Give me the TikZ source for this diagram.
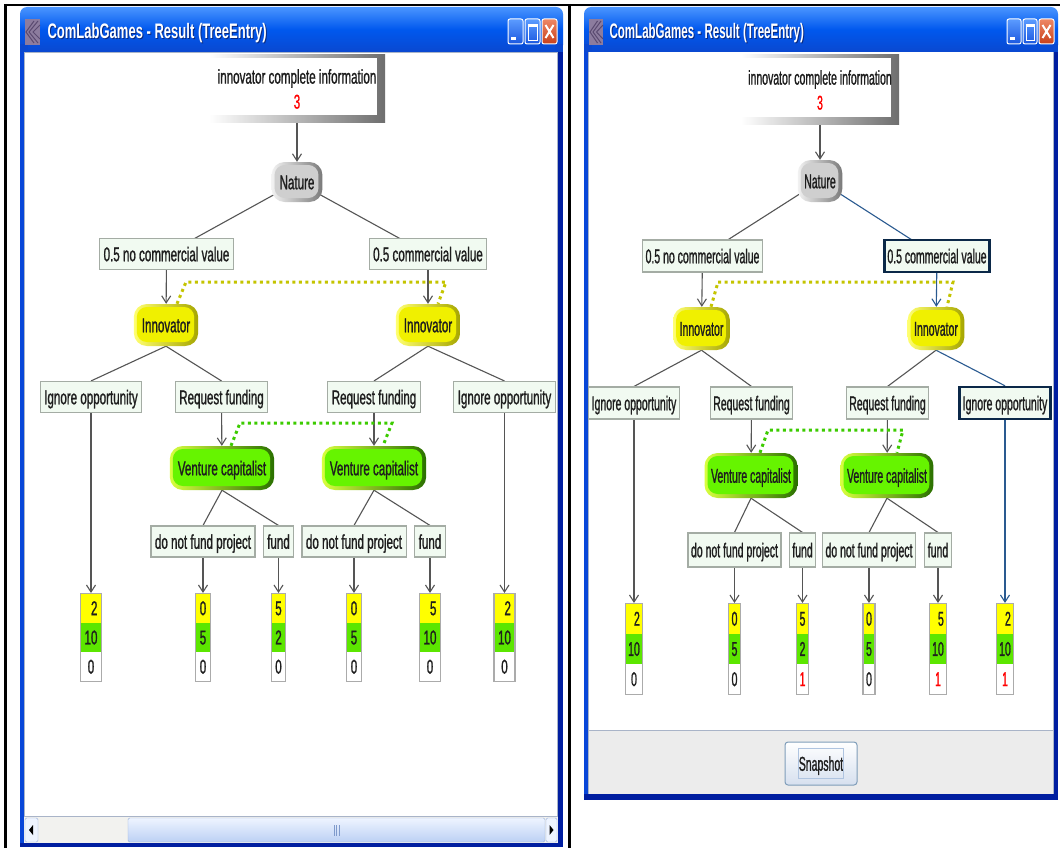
\documentclass[tikz,border=0pt]{standalone}
\usepackage{fontspec}
\setmainfont{Liberation Sans}
\newfontfamily\lfnt[FakeStretch=0.58,FakeBold=1]{Liberation Sans}
\newfontfamily\rfnt[FakeStretch=0.525,FakeBold=1]{Liberation Sans}
\newfontfamily\ltfnt[FakeStretch=0.62]{Liberation Sans}
\newfontfamily\rtfnt[FakeStretch=0.55]{Liberation Sans}
\usetikzlibrary{arrows.meta,shapes.multipart,calc}
\pgfdeclarelayer{chrome}
\pgfdeclarelayer{edges}
\pgfsetlayers{chrome,edges,main}

\definecolor{txt}{HTML}{1E1E1E}
\definecolor{actfill}{HTML}{F1FAF1}
\definecolor{actbd}{HTML}{A4ACA4}
\definecolor{selbd}{HTML}{0B2848}
\definecolor{edgec}{HTML}{555555}
\definecolor{bluee}{HTML}{2A5A90}
\definecolor{ydot}{HTML}{C4C400}
\definecolor{gdot}{HTML}{3CCB00}
\definecolor{payY}{HTML}{FFFF00}
\definecolor{payG}{HTML}{5CE600}
\definecolor{paybd}{HTML}{ABABAB}
\definecolor{innA}{HTML}{FFFF70}
\definecolor{innB}{HTML}{A6A600}
\definecolor{innC}{HTML}{F0F000}
\definecolor{vcA}{HTML}{D8FF40}
\definecolor{vcB}{HTML}{2A7000}
\definecolor{vcC}{HTML}{66F400}
\definecolor{natA}{HTML}{F2F2F2}
\definecolor{natB}{HTML}{7A7A7A}
\definecolor{natC}{HTML}{CFCFCF}
\definecolor{infoS}{HTML}{6E6E6E}
\definecolor{xpT0}{HTML}{0A48D0}
\definecolor{xpT1}{HTML}{0058EE}
\definecolor{xpT2}{HTML}{4A95FF}
\definecolor{xpSide}{HTML}{0846D8}
\definecolor{xpDark}{HTML}{001EA0}
\definecolor{xpShadow}{HTML}{0A2A80}
\definecolor{contbd}{HTML}{A9B4C8}
\definecolor{panel}{HTML}{ECECEC}
\definecolor{closeA}{HTML}{EE8866}
\definecolor{closeB}{HTML}{C8401A}
\definecolor{btnA}{HTML}{5C9CFF}
\definecolor{btnB}{HTML}{1B58E0}
\definecolor{iconc}{HTML}{8C7C9E}
\definecolor{iconD}{HTML}{5A4A70}
\definecolor{sbA}{HTML}{EEF4FF}
\definecolor{sbB}{HTML}{BCD0F4}
\definecolor{sbbd}{HTML}{98B0DA}
\definecolor{sbtrack}{HTML}{F2F2EF}
\definecolor{grip}{HTML}{7F9ACB}
\definecolor{snapbd}{HTML}{7F9DB9}
\definecolor{snapB}{HTML}{D6E0EF}
\definecolor{focus}{HTML}{AFC4E0}

\newcommand\pstrL{\rule[-7pt]{0pt}{28pt}}
\newcommand\pstrR{\rule[-7.5pt]{0pt}{29pt}}

\begin{document}
\begin{tikzpicture}[x=1pt,y=-1pt,
  lf/.style={font=\lfnt\fontsize{20}{22}\selectfont},
  rf/.style={font=\rfnt\fontsize{20}{22}\selectfont},
  act/.style={rectangle, fill=actfill, draw=actbd, line width=1.1pt, inner ysep=0pt, text=txt, text height=14.5pt, text depth=0pt},
  actL/.style={act, lf, minimum height=31pt, inner xsep=4pt},
  actR/.style={act, rf, minimum height=32pt, inner xsep=3pt},
  sel/.style={draw=selbd, line width=2.4pt},
  pillL/.style={rectangle, rounded corners=13pt, inner xsep=8pt, inner ysep=0pt, text=txt, lf, text height=14.5pt, text depth=0pt},
  pillR/.style={rectangle, rounded corners=13pt, inner xsep=6.5pt, inner ysep=0pt, text=txt, rf, text height=14.5pt, text depth=0pt},
  nat/.style={left color=natA, right color=natB,
    path picture={\fill[natC, rounded corners=10pt] ([shift={(3pt,-3pt)}]path picture bounding box.north west) rectangle ([shift={(-4pt,4pt)}]path picture bounding box.south east);}},
  inn/.style={left color=innA, right color=innB,
    path picture={\fill[innC, rounded corners=10pt] ([shift={(3pt,-3pt)}]path picture bounding box.north west) rectangle ([shift={(-4pt,4pt)}]path picture bounding box.south east);}},
  vc/.style={left color=vcA, right color=vcB,
    path picture={\fill[vcC, rounded corners=10pt] ([shift={(3pt,-3pt)}]path picture bounding box.north west) rectangle ([shift={(-4pt,4pt)}]path picture bounding box.south east);}},
  infobox/.style={rectangle, inner sep=0pt, align=center, text=txt,
    path picture={\shade[left color=white, right color=infoS] (path picture bounding box.north west) rectangle (path picture bounding box.south east);
      \fill[white] ([yshift=-3pt]path picture bounding box.north west) rectangle ([shift={(-8pt,8pt)}]path picture bounding box.south east);}},
  pay/.style={rectangle split, rectangle split parts=3, rectangle split draw splits=false,
    rectangle split part fill={payY,payG,white}, draw=paybd, line width=1.2pt,
    inner ysep=0pt, text=txt, anchor=north},
  payL/.style={pay, lf, inner xsep=4pt},
  payR/.style={pay, rf, inner xsep=3pt},
  edge/.style={draw=edgec, line width=1.1pt},
  arr/.style={edge, -{Straight Barb[length=7pt,width=9pt]}},
  bl/.style={draw=bluee},
  yset/.style={draw=ydot, line width=3pt, dash pattern=on 3pt off 3.5pt},
  gset/.style={draw=gdot, line width=3pt, dash pattern=on 3pt off 3.5pt},
  xpbtn/.style={draw=white, line width=1pt, rounded corners=2pt, top color=btnA, bottom color=btnB},
  xpclose/.style={draw=white, line width=1pt, rounded corners=2pt, top color=closeA, bottom color=closeB}
]
\useasboundingbox (0,0) rectangle (1060,848);

\begin{pgfonlayer}{chrome}
\fill[white] (0,0) rectangle (1060,848);
% table rules
\draw[black, line width=2.5pt] (4,5) -- (1060,5);
\draw[black, line width=2.5pt] (5.5,4) -- (5.5,848);
\draw[black, line width=2.5pt] (569.5,4) -- (569.5,848);

% ---------- left window ----------
\shade[top color=xpT2, bottom color=xpT0, middle color=xpT1, rounded corners=7pt] (20,7) rectangle (563,52);
\fill[xpT0] (20,44) rectangle (28,52);
\fill[xpT0] (555,44) rectangle (563,52);
\fill[xpSide] (20,52) rectangle (24,847);
\fill[xpDark] (558,52) rectangle (563,847);
\fill[xpDark] (20,843) rectangle (563,847);
\fill[white] (24,52) rectangle (558,816);
\draw[contbd, line width=1pt] (24.5,52.5) rectangle (557.5,816);
% scrollbar
\fill[sbtrack] (24,816.5) rectangle (558,843);
\draw[sbbd, fill=sbA, rounded corners=1.5pt] (25,818) rectangle (38,842);
\fill[black] (29,830) -- (33,825) -- (33,835) -- cycle;
\shade[top color=sbA, bottom color=sbB, rounded corners=1.5pt] (128,818) rectangle (545,842);
\draw[sbbd, rounded corners=1.5pt] (128,818) rectangle (545,842);
\draw[grip, line width=0.8pt] (334,825) -- (334,836) (336.5,825) -- (336.5,836) (339,825) -- (339,836);
\draw[sbbd, fill=sbA, rounded corners=1.5pt] (546,818) rectangle (557,842);
\fill[black] (553.5,830) -- (549.5,825) -- (549.5,835) -- cycle;

% ---------- right window ----------
\shade[top color=xpT2, bottom color=xpT0, middle color=xpT1, rounded corners=7pt] (584,7) rectangle (1058,52);
\fill[xpT0] (584,44) rectangle (592,52);
\fill[xpT0] (1050,44) rectangle (1058,52);
\fill[xpSide] (584,52) rectangle (588,800);
\fill[xpDark] (1054,52) rectangle (1058,800);
\fill[xpDark] (584,794) rectangle (1058,800);
\fill[white] (588,52) rectangle (1054,730);
\fill[panel] (588,731) rectangle (1054,794);
\draw[contbd, line width=1pt] (588,730.5) -- (1054,730.5);
\draw[contbd, line width=0.8pt] (588.5,52.5) -- (588.5,794) (1053.5,52.5) -- (1053.5,794);
\end{pgfonlayer}

% title icons
\fill[iconc] (25,19) rectangle (40,45);
\draw[iconD, line width=1pt] (38,21) -- (29,32) -- (38,43) (34,21) -- (26,32) -- (34,43) (40,25) -- (33,32) -- (40,39);
\fill[iconc] (589,19) rectangle (603,45);
\draw[iconD, line width=1pt] (601,21) -- (593,32) -- (601,43) (597.5,21) -- (590,32) -- (597.5,43) (603,25) -- (596.5,32) -- (603,39);

% titles
\node[anchor=west, text=xpShadow, font=\ltfnt\bfseries\fontsize{21}{22}\selectfont] (ttlLs) at (45,34) {ComLabGames - Result (TreeEntry)};
\node[anchor=west, text=white, font=\ltfnt\bfseries\fontsize{21}{22}\selectfont] (ttlL) at (44,33) {ComLabGames - Result (TreeEntry)};
\node[anchor=west, text=xpShadow, font=\rtfnt\bfseries\fontsize{21}{22}\selectfont] (ttlRs) at (607,34) {ComLabGames - Result (TreeEntry)};
\node[anchor=west, text=white, font=\rtfnt\bfseries\fontsize{21}{22}\selectfont] (ttlR) at (606,33) {ComLabGames - Result (TreeEntry)};

% title buttons left
\path[xpbtn] (508,19) rectangle (523,44);
\fill[white] (511,37) rectangle (516,40);
\path[xpbtn] (525,19) rectangle (540,44);
\draw[white, line width=0.9pt] (528,24) rectangle (537,40);
\fill[white] (528,24) rectangle (537,27);
\path[xpclose] (542,19) rectangle (557,44);
\draw[white, line width=2pt] (545.5,25) -- (553.5,38) (553.5,25) -- (545.5,38);
% title buttons right
\path[xpbtn] (1007,19) rectangle (1021,44);
\fill[white] (1010,37) rectangle (1015,40);
\path[xpbtn] (1023,19) rectangle (1037,44);
\draw[white, line width=0.9pt] (1026,24) rectangle (1034,40);
\fill[white] (1026,24) rectangle (1034,27);
\path[xpclose] (1039,19) rectangle (1054,44);
\draw[white, line width=2pt] (1042.5,25) -- (1050.5,38) (1050.5,25) -- (1042.5,38);

% snapshot button
\node[rectangle, rounded corners=3pt, draw=snapbd, line width=1pt, top color=white, bottom color=snapB,
      minimum width=72pt, minimum height=43pt, inner sep=0pt, rf, text=txt, text height=14.5pt, text depth=0pt] (snap) at (821,763.5) {Snapshot};
\draw[focus, line width=0.8pt] (798,748.5) rectangle (843.5,778.5);

% ================= LEFT TREE =================
\node[infobox, font=\lfnt\fontsize{20}{25}\selectfont, minimum width=176pt, minimum height=68pt] (infoL) at (297,89)
  {innovator complete information\\\textcolor{red}{3}};
\node[pillL, nat, minimum height=40pt] (natL) at (297,182) {Nature};
\node[actL] (ncL) at (166.5,254) {0.5 no commercial value};
\node[actL] (cvL) at (428,254) {0.5 commercial value};
\node[pillL, inn, minimum height=42pt] (innL1) at (166,325) {Innovator};
\node[pillL, inn, minimum height=42pt] (innL2) at (428,325) {Innovator};
\node[actL] (igL1) at (91,397) {Ignore opportunity};
\node[actL] (rfL1) at (221.5,397) {Request funding};
\node[actL] (rfL2) at (374,397) {Request funding};
\node[actL] (igL2) at (504.5,397) {Ignore opportunity};
\node[pillL, vc, minimum height=44pt] (vcL1) at (222,468) {Venture capitalist};
\node[pillL, vc, minimum height=44pt] (vcL2) at (374,468) {Venture capitalist};
\node[actL] (dnfL1) at (203,541.5) {do not fund project};
\node[actL] (fdL1) at (278.5,541.5) {fund};
\node[actL] (dnfL2) at (354,541.5) {do not fund project};
\node[actL] (fdL2) at (430,541.5) {fund};
\node[payL] (payL1) at (91,593) {\pstrL\phantom{1}2\nodepart{two}\pstrL 10\nodepart{three}\pstrL 0};
\node[payL] (payL2) at (203,593) {\pstrL 0\nodepart{two}\pstrL 5\nodepart{three}\pstrL 0};
\node[payL] (payL3) at (278.5,593) {\pstrL 5\nodepart{two}\pstrL 2\nodepart{three}\pstrL 0};
\node[payL] (payL4) at (354,593) {\pstrL 0\nodepart{two}\pstrL 5\nodepart{three}\pstrL 0};
\node[payL] (payL5) at (430,593) {\pstrL\phantom{1}5\nodepart{two}\pstrL 10\nodepart{three}\pstrL 0};
\node[payL] (payL6) at (504.5,593) {\pstrL\phantom{1}2\nodepart{two}\pstrL 10\nodepart{three}\pstrL 0};
\coordinate (yL1) at (186,282);
\coordinate (yL2) at (446,282);
\coordinate (gL1) at (240,423);
\coordinate (gL2) at (392,423);

% ================= RIGHT TREE =================
\node[infobox, font=\rfnt\fontsize{20}{25}\selectfont, minimum width=158pt, minimum height=70pt] (infoR) at (820,90)
  {innovator complete information\\\textcolor{red}{3}};
\node[pillR, nat, minimum height=42pt] (natR) at (820,181) {Nature};
\node[actR] (ncR) at (702.5,256) {0.5 no commercial value};
\node[actR, sel] (cvR) at (937,256) {0.5 commercial value};
\node[pillR, inn, minimum height=43pt] (innR1) at (701.5,328.5) {Innovator};
\node[pillR, inn, minimum height=43pt] (innR2) at (936,328.5) {Innovator};
\node[actR] (igR1) at (634,403) {Ignore opportunity};
\node[actR] (rfR1) at (751.5,403) {Request funding};
\node[actR] (rfR2) at (887.5,403) {Request funding};
\node[actR, sel] (igR2) at (1005,403) {Ignore opportunity};
\node[pillR, vc, minimum height=45pt] (vcR1) at (751,475.5) {Venture capitalist};
\node[pillR, vc, minimum height=45pt] (vcR2) at (887,475.5) {Venture capitalist};
\node[actR, minimum height=34pt] (dnfR1) at (734.5,550) {do not fund project};
\node[actR, minimum height=34pt] (fdR1) at (802.5,550) {fund};
\node[actR, minimum height=34pt] (dnfR2) at (869,550) {do not fund project};
\node[actR, minimum height=34pt] (fdR2) at (938,550) {fund};
\node[payR] (payR1) at (634,603) {\pstrR\phantom{1}2\nodepart{two}\pstrR 10\nodepart{three}\pstrR 0};
\node[payR] (payR2) at (734.5,603) {\pstrR 0\nodepart{two}\pstrR 5\nodepart{three}\pstrR 0};
\node[payR] (payR3) at (802.5,603) {\pstrR 5\nodepart{two}\pstrR 2\nodepart{three}\pstrR\textcolor{red}{1}};
\node[payR] (payR4) at (869,603) {\pstrR 0\nodepart{two}\pstrR 5\nodepart{three}\pstrR 0};
\node[payR] (payR5) at (938,603) {\pstrR\phantom{1}5\nodepart{two}\pstrR 10\nodepart{three}\pstrR\textcolor{red}{1}};
\node[payR] (payR6) at (1005,603) {\pstrR\phantom{1}2\nodepart{two}\pstrR 10\nodepart{three}\pstrR\textcolor{red}{1}};
\coordinate (yR1) at (718,282);
\coordinate (yR2) at (953,282);
\coordinate (gR1) at (768,430);
\coordinate (gR2) at (903,430);

\begin{pgfonlayer}{edges}
% left
\draw[arr] (infoL) -- (natL);
\draw[edge] (natL.center) -- (ncL.center);
\draw[edge] (natL.center) -- (cvL.center);
\draw[arr] (ncL) -- (innL1);
\draw[arr] (cvL) -- (innL2);
\draw[edge] (innL1.south) -- (igL1.north);
\draw[edge] (innL1.south) -- (rfL1.north);
\draw[edge] (innL2.south) -- (rfL2.north);
\draw[edge] (innL2.south) -- (igL2.north);
\draw[arr] (rfL1) -- (vcL1);
\draw[arr] (rfL2) -- (vcL2);
\draw[edge] (vcL1.south) -- (dnfL1.north);
\draw[edge] (vcL1.south) -- (fdL1.north);
\draw[edge] (vcL2.south) -- (dnfL2.north);
\draw[edge] (vcL2.south) -- (fdL2.north);
\draw[arr] (igL1) -- (payL1);
\draw[arr] (dnfL1) -- (payL2);
\draw[arr] (fdL1) -- (payL3);
\draw[arr] (dnfL2) -- (payL4);
\draw[arr] (fdL2) -- (payL5);
\draw[arr] (igL2) -- (payL6);
\draw[yset] ([xshift=11pt]innL1.north) -- (yL1) -- (yL2) -- ([xshift=10pt]innL2.north);
\draw[gset] ([xshift=9pt]vcL1.north) -- (gL1) -- (gL2) -- ([xshift=9pt]vcL2.north);
% right
\draw[arr] (infoR) -- (natR);
\draw[edge] (natR.center) -- (ncR.center);
\draw[edge, bl] (natR.center) -- (cvR.center);
\draw[arr] (ncR) -- (innR1);
\draw[arr, bl] (cvR) -- (innR2);
\draw[edge] (innR1.south) -- (igR1.north);
\draw[edge] (innR1.south) -- (rfR1.north);
\draw[edge] (innR2.south) -- (rfR2.north);
\draw[edge, bl] (innR2.south) -- (igR2.north);
\draw[arr] (rfR1) -- (vcR1);
\draw[arr] (rfR2) -- (vcR2);
\draw[edge] (vcR1.south) -- (dnfR1.north);
\draw[edge] (vcR1.south) -- (fdR1.north);
\draw[edge] (vcR2.south) -- (dnfR2.north);
\draw[edge] (vcR2.south) -- (fdR2.north);
\draw[arr] (igR1) -- (payR1);
\draw[arr] (dnfR1) -- (payR2);
\draw[arr] (fdR1) -- (payR3);
\draw[arr] (dnfR2) -- (payR4);
\draw[arr] (fdR2) -- (payR5);
\draw[arr, bl] (igR2) -- (payR6);
\draw[yset] ([xshift=9.5pt]innR1.north) -- (yR1) -- (yR2) -- ([xshift=11pt]innR2.north);
\draw[gset] ([xshift=9pt]vcR1.north) -- (gR1) -- (gR2) -- ([xshift=10pt]vcR2.north);
\end{pgfonlayer}
\end{tikzpicture}
\end{document}
